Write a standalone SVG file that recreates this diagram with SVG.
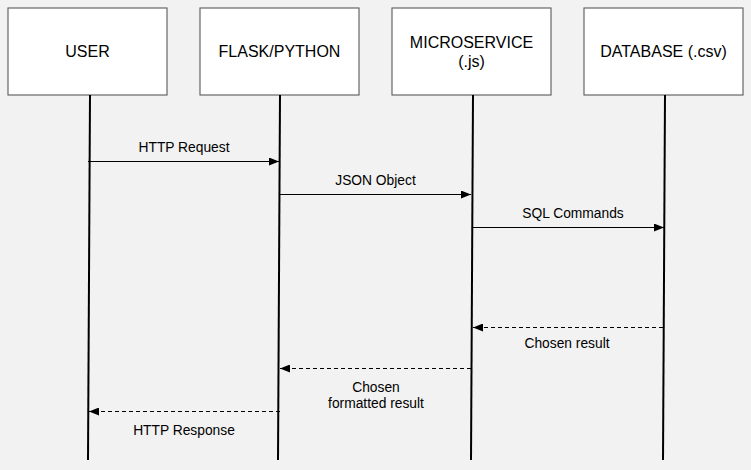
<svg xmlns="http://www.w3.org/2000/svg" width="751" height="470" viewBox="0 0 751 470">
<defs>
<marker id="ah" viewBox="0 0 10 8" refX="10" refY="4" markerWidth="10" markerHeight="8" markerUnits="userSpaceOnUse" orient="auto">
<path d="M0,0 L10,4 L0,8 Z" fill="#000"/>
</marker>
<style>
.box{fill:#fff;stroke:#666;stroke-width:1.2}
.t{font-family:"Liberation Sans",Arial,sans-serif;font-size:16px;fill:#000;text-anchor:middle}
.l{font-family:"Liberation Sans",Arial,sans-serif;font-size:13.8px;fill:#000;text-anchor:middle}
.life{stroke:#000;stroke-width:2;fill:none}
.msg{stroke:#000;stroke-width:1;fill:none;marker-end:url(#ah)}
.ret{stroke:#000;stroke-width:1;fill:none;stroke-dasharray:4,3;marker-end:url(#ah)}
</style>
</defs>
<rect width="751" height="470" fill="#f2f2f2"/>
<g id="user">
<rect class="box" x="8" y="8" width="159" height="87"/>
<text class="t" x="87.5" y="57">USER</text>
</g>
<g id="flask">
<rect class="box" x="200" y="8" width="159" height="87"/>
<text class="t" x="279.5" y="57">FLASK/PYTHON</text>
</g>
<g id="microservice">
<rect class="box" x="392" y="8" width="159" height="87"/>
<text class="t" x="471.5" y="48">MICROSERVICE</text>
<text class="t" x="471.5" y="67">(.js)</text>
</g>
<g id="database">
<rect class="box" x="584" y="8" width="159" height="87"/>
<text class="t" x="663.5" y="57">DATABASE (.csv)</text>
</g>
<g id="lifelines">
<line class="life" x1="90" y1="95" x2="88" y2="460"/>
<line class="life" x1="280" y1="95" x2="278" y2="460"/>
<line class="life" x1="473" y1="95" x2="471" y2="460"/>
<line class="life" x1="665" y1="95" x2="663" y2="460"/>
</g>
<g id="connectors">
<line class="msg" x1="88" y1="161.5" x2="279" y2="161.5"/>
<line class="msg" x1="280" y1="194.5" x2="471" y2="194.5"/>
<line class="msg" x1="472" y1="227.5" x2="664" y2="227.5"/>
<line class="ret" x1="663" y1="327.5" x2="473" y2="327.5"/>
<line class="ret" x1="471" y1="368.5" x2="280" y2="368.5"/>
<line class="ret" x1="280" y1="411.5" x2="89" y2="411.5"/>
<text class="l" x="184" y="152">HTTP Request</text>
<text class="l" x="375.5" y="185">JSON Object</text>
<text class="l" x="573" y="218">SQL Commands</text>
<text class="l" x="567" y="348">Chosen result</text>
<text class="l" x="376" y="392">Chosen</text>
<text class="l" x="376" y="408">formatted result</text>
<text class="l" x="184" y="435">HTTP Response</text>
</g>
</svg>
